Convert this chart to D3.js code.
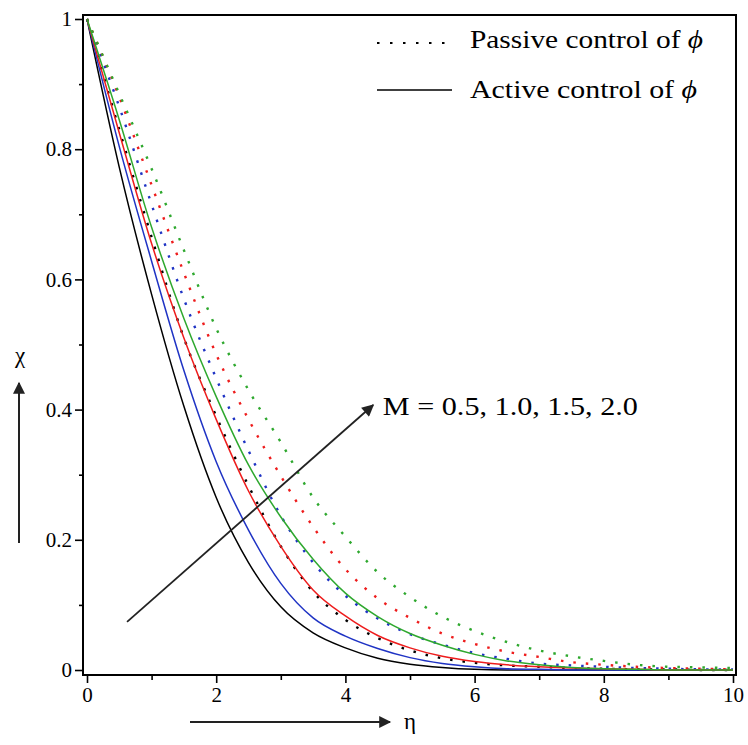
<!DOCTYPE html>
<html>
<head>
<meta charset="utf-8">
<script src="https://cdn.jsdelivr.net/npm/d3@7"></script>
<style>
  html, body { margin: 0; padding: 0; background: #fff; }
  svg { display: block; }
</style>
</head>
<body>
<svg id="chart" width="748" height="745"></svg>
<script>
// ---------- data ----------
const eta = [0, 0.5, 1, 1.5, 2, 2.5, 3, 3.5, 4, 4.5, 5, 5.5, 6, 6.5, 7, 7.5, 8, 8.5, 9, 9.5, 10];

// Active control of phi (solid lines)
const activeM05 = [1, 0.772, 0.577, 0.405, 0.265, 0.165, 0.097, 0.057, 0.034, 0.018, 0.009, 0.004, 0.001, 0, 0, 0, 0, 0, 0, 0, 0];
const activeM10 = [1, 0.804, 0.628, 0.46, 0.32, 0.215, 0.133, 0.08, 0.052, 0.033, 0.019, 0.01, 0.005, 0.002, 0.001, 0, 0, 0, 0, 0, 0];
const activeM15 = [1, 0.825, 0.655, 0.51, 0.385, 0.275, 0.19, 0.123, 0.083, 0.053, 0.034, 0.021, 0.013, 0.008, 0.005, 0.003, 0.002, 0.001, 0, 0, 0];
const activeM20 = [1, 0.845, 0.68, 0.54, 0.42, 0.315, 0.235, 0.17, 0.118, 0.082, 0.056, 0.038, 0.024, 0.014, 0.008, 0.004, 0.002, 0.001, 0, 0, 0];

// Passive control of phi (dotted lines)
const passiveM05 = [1, 0.83, 0.665, 0.51, 0.39, 0.283, 0.19, 0.12, 0.077, 0.049, 0.03, 0.018, 0.011, 0.007, 0.005, 0.003, 0.002, 0.001, 0.001, 0, 0];
const passiveM10 = [1, 0.865, 0.715, 0.57, 0.448, 0.337, 0.237, 0.165, 0.114, 0.079, 0.055, 0.039, 0.026, 0.017, 0.01, 0.007, 0.005, 0.003, 0.002, 0.001, 0.001];
const passiveM15 = [1, 0.88, 0.745, 0.61, 0.485, 0.385, 0.298, 0.22, 0.155, 0.11, 0.08, 0.056, 0.04, 0.028, 0.02, 0.012, 0.008, 0.005, 0.003, 0.002, 0.001];
const passiveM20 = [1, 0.885, 0.77, 0.645, 0.525, 0.43, 0.35, 0.265, 0.205, 0.15, 0.112, 0.082, 0.06, 0.043, 0.03, 0.021, 0.014, 0.008, 0.005, 0.004, 0.003];

const seriesColors = ["#000000", "#1f33c4", "#ee1c1c", "#2ea82e"];
const xTicks = [0, 2, 4, 6, 8, 10];
const xTickLabels = ["0", "2", "4", "6", "8", "10"];
const xMinorTicks = [1, 3, 5, 7, 9];
const yTicks = [0, 0.2, 0.4, 0.6, 0.8, 1];
const yTickLabels = ["0", "0.2", "0.4", "0.6", "0.8", "1"];
const yMinorTicks = [0.1, 0.3, 0.5, 0.7, 0.9];
const legendLabels = ["Passive control of ", "Active control of "];
const annotationLabel = "M = 0.5, 1.0, 1.5, 2.0";
const xLabel = "η";
const yLabel = "χ";

// ---------- drawing ----------
const SERIF = "'Liberation Serif', 'Times New Roman', Times, serif";
const svg = d3.select("#chart");
const x = d3.scaleLinear().domain([0, 10]).range([87, 733]);
const y = d3.scaleLinear().domain([0, 1]).range([670, 19]);

const frame = { left: 83, top: 15, right: 736, bottom: 675 };

const activeSeries = [activeM05, activeM10, activeM15, activeM20];
const passiveSeries = [passiveM05, passiveM10, passiveM15, passiveM20];

const line = d3.line()
  .x(d => x(d[0]))
  .y(d => y(d[1]))
  .curve(d3.curveMonotoneX);

const defs = svg.append("defs");
defs.append("clipPath").attr("id", "clip")
  .append("rect").attr("x", frame.left).attr("y", frame.top)
  .attr("width", frame.right - frame.left).attr("height", frame.bottom - frame.top);
const plot = svg.append("g").attr("clip-path", "url(#clip)");

passiveSeries.forEach((vals, i) => {
  plot.append("path")
    .datum(eta.map((e, k) => [e, vals[k]]))
    .attr("d", line)
    .attr("fill", "none")
    .attr("stroke", seriesColors[i])
    .attr("stroke-width", 2.4)
    .attr("stroke-dasharray", "2.5,10");
});
activeSeries.forEach((vals, i) => {
  plot.append("path")
    .datum(eta.map((e, k) => [e, vals[k]]))
    .attr("d", line)
    .attr("fill", "none")
    .attr("stroke", seriesColors[i])
    .attr("stroke-width", 1.5);
});

// frame
svg.append("rect")
  .attr("x", frame.left).attr("y", frame.top)
  .attr("width", frame.right - frame.left).attr("height", frame.bottom - frame.top)
  .attr("fill", "none").attr("stroke", "#000").attr("stroke-width", 2);

// axes
const yAxis = d3.axisLeft(y).tickValues(yTicks)
  .tickFormat((d, i) => yTickLabels[i]).tickSize(8).tickPadding(3);
const gy = svg.append("g").attr("transform", `translate(${frame.left},0)`).call(yAxis);
const yMinor = d3.axisLeft(y).tickValues(yMinorTicks).tickFormat("").tickSize(4);
const gym = svg.append("g").attr("transform", `translate(${frame.left},0)`).call(yMinor);

const xAxis = d3.axisBottom(x).tickValues(xTicks)
  .tickFormat((d, i) => xTickLabels[i]).tickSize(8).tickPadding(4);
const gx = svg.append("g").attr("transform", `translate(0,${frame.bottom})`).call(xAxis);
const xMinor = d3.axisBottom(x).tickValues(xMinorTicks).tickFormat("").tickSize(5);
const gxm = svg.append("g").attr("transform", `translate(0,${frame.bottom})`).call(xMinor);

[gy, gym, gx, gxm].forEach(g => {
  g.select(".domain").remove();
  g.attr("font-family", null);
  g.selectAll(".tick line").attr("stroke", "#000").attr("stroke-width", 1.6);
  g.selectAll(".tick text")
    .style("font-family", SERIF)
    .style("font-size", "21px")
    .attr("fill", "#000");
});

// arrow heads
defs.append("marker")
  .attr("id", "arrowHead")
  .attr("viewBox", "0 0 10 10")
  .attr("refX", 9).attr("refY", 5)
  .attr("markerWidth", 16).attr("markerHeight", 12)
  .attr("markerUnits", "userSpaceOnUse")
  .attr("orient", "auto")
  .append("path").attr("d", "M0,0 L10,5 L0,10 Z").attr("fill", "#222");

// M annotation arrow (in data coordinates)
svg.append("line")
  .attr("x1", x(0.62)).attr("y1", y(0.074))
  .attr("x2", x(4.43)).attr("y2", y(0.407))
  .attr("stroke", "#222").attr("stroke-width", 1.8)
  .attr("marker-end", "url(#arrowHead)");
svg.append("text")
  .attr("x", x(4.58)).attr("y", y(0.392))
  .style("font-family", SERIF).style("font-size", "25px")
  .attr("textLength", 255).attr("lengthAdjust", "spacingAndGlyphs")
  .text(annotationLabel);

// x axis title arrow
svg.append("line")
  .attr("x1", 190).attr("y1", 722).attr("x2", 390).attr("y2", 722)
  .attr("stroke", "#222").attr("stroke-width", 2)
  .attr("marker-end", "url(#arrowHead)");
svg.append("text").attr("x", 404).attr("y", 729)
  .style("font-family", SERIF).style("font-size", "23px").text(xLabel);

// y axis title arrow
svg.append("line")
  .attr("x1", 19).attr("y1", 543).attr("x2", 19).attr("y2", 383)
  .attr("stroke", "#222").attr("stroke-width", 2)
  .attr("marker-end", "url(#arrowHead)");
svg.append("text").attr("x", 20).attr("y", 363)
  .attr("text-anchor", "middle")
  .style("font-family", SERIF).style("font-size", "23px").text(yLabel);

// legend
const legend = svg.append("g");
legend.append("line")
  .attr("x1", 377).attr("x2", 452).attr("y1", 43).attr("y2", 43)
  .attr("stroke", "#000").attr("stroke-width", 2.2).attr("stroke-dasharray", "2.5,10.5");
legend.append("line")
  .attr("x1", 377).attr("x2", 452).attr("y1", 90).attr("y2", 90)
  .attr("stroke", "#000").attr("stroke-width", 1.6);
const t1 = legend.append("text").attr("x", 470).attr("y", 48)
  .style("font-family", SERIF).style("font-size", "25px")
  .attr("textLength", 233).attr("lengthAdjust", "spacingAndGlyphs");
t1.append("tspan").text(legendLabels[0]);
t1.append("tspan").attr("font-style", "italic").text("ϕ");
const t2 = legend.append("text").attr("x", 470).attr("y", 98)
  .style("font-family", SERIF).style("font-size", "25px")
  .attr("textLength", 227).attr("lengthAdjust", "spacingAndGlyphs");
t2.append("tspan").text(legendLabels[1]);
t2.append("tspan").attr("font-style", "italic").text("ϕ");
</script>
</body>
</html>
